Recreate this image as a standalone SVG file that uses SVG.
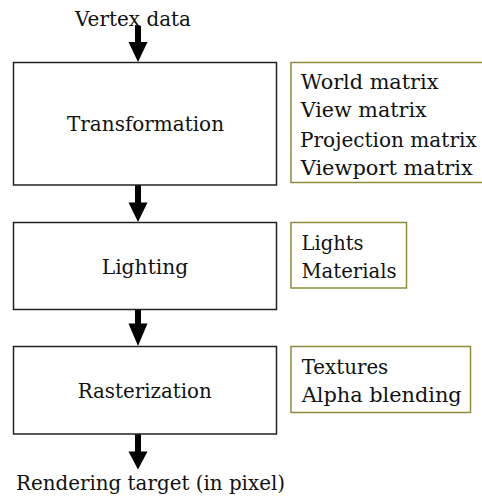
<svg xmlns="http://www.w3.org/2000/svg" width="482" height="497" viewBox="0 0 482 497">
<style>
  .t { font-family: "DejaVu Serif", "Liberation Serif", serif; font-size: 20px; fill: #111; }
  .main { fill: #fff; stroke: #222; stroke-width: 1.5; }
  .side { fill: #fff; stroke: #8c8c3c; stroke-width: 1.5; }
  .arrow { fill: #000; stroke: none; }
</style>
<rect width="482" height="497" fill="#fff"/>
<g id="connectors">
  <path class="arrow" d="M135,26 H141 V42 H147.5 L138,62 L128.5,42 H135 Z"/>
  <path class="arrow" d="M135,185 H141 V202.5 H147.5 L138,222 L128.5,202.5 H135 Z"/>
  <path class="arrow" d="M135,309.5 H141 V323.5 H147.5 L138,346 L128.5,323.5 H135 Z"/>
  <path class="arrow" d="M135,434 H141 V451.5 H147.5 L138,469.5 L128.5,451.5 H135 Z"/>
</g>
<g id="vertex-data">
  <text class="t" x="75" y="25.5" textLength="116" lengthAdjust="spacingAndGlyphs">Vertex data</text>
</g>
<g id="transformation">
  <rect class="main" x="13.5" y="62.5" width="263" height="122.5"/>
  <text class="t" x="67" y="131" textLength="157" lengthAdjust="spacingAndGlyphs">Transformation</text>
</g>
<g id="transformation-params">
  <rect class="side" x="291" y="62.5" width="193" height="120"/>
  <text class="t" x="300.7" y="88.5" textLength="137.7" lengthAdjust="spacingAndGlyphs">World matrix</text>
  <text class="t" x="300.7" y="117" textLength="126" lengthAdjust="spacingAndGlyphs">View matrix</text>
  <text class="t" x="300" y="146.5" textLength="176.7" lengthAdjust="spacingAndGlyphs">Projection matrix</text>
  <text class="t" x="300.7" y="175" textLength="172" lengthAdjust="spacingAndGlyphs">Viewport matrix</text>
</g>
<g id="lighting">
  <rect class="main" x="13.5" y="222.5" width="263" height="87"/>
  <text class="t" x="101.7" y="274.3" textLength="86.6" lengthAdjust="spacingAndGlyphs">Lighting</text>
</g>
<g id="lighting-params">
  <rect class="side" x="291" y="222.5" width="115.5" height="65.5"/>
  <text class="t" x="301.5" y="249.5" textLength="62" lengthAdjust="spacingAndGlyphs">Lights</text>
  <text class="t" x="301.5" y="278" textLength="95" lengthAdjust="spacingAndGlyphs">Materials</text>
</g>
<g id="rasterization">
  <rect class="main" x="13.5" y="346.5" width="263" height="87.5"/>
  <text class="t" x="77.7" y="398.3" textLength="134" lengthAdjust="spacingAndGlyphs">Rasterization</text>
</g>
<g id="rasterization-params">
  <rect class="side" x="291" y="346.5" width="179.5" height="66"/>
  <text class="t" x="301.7" y="373.5" textLength="86.6" lengthAdjust="spacingAndGlyphs">Textures</text>
  <text class="t" x="301.7" y="402" textLength="160" lengthAdjust="spacingAndGlyphs">Alpha blending</text>
</g>
<g id="rendering-target">
  <text class="t" x="16" y="490" textLength="269" lengthAdjust="spacingAndGlyphs">Rendering target (in pixel)</text>
</g>
</svg>
